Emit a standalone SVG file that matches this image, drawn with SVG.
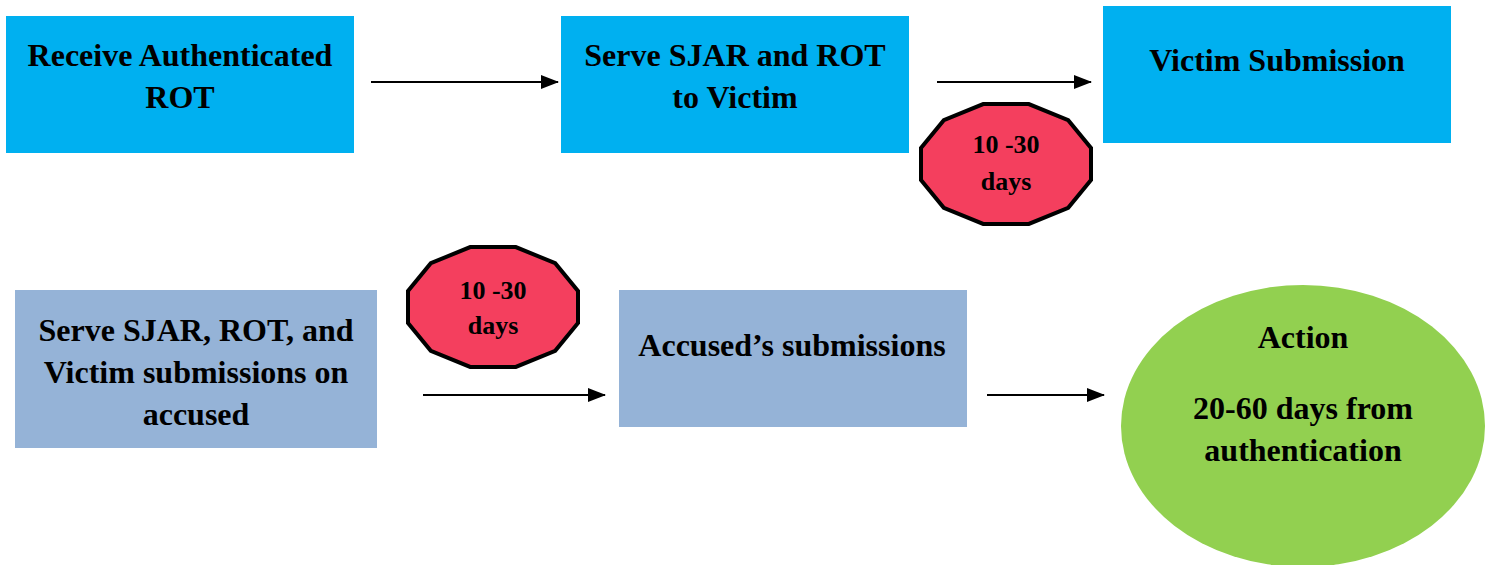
<svg xmlns="http://www.w3.org/2000/svg" width="1492" height="565" viewBox="0 0 1492 565">
<style>
.t{font-family:"Liberation Serif","Times New Roman",serif;font-weight:bold;fill:#000;text-anchor:middle}
.b{font-size:32px}
.s{font-size:26px}
.c1{fill:#00B0F0}
.c2{fill:#95B3D7}
.oct{fill:#F43F5E;stroke:#000;stroke-width:4;stroke-linejoin:miter}
.ln{stroke:#000;stroke-width:2;fill:none}
</style>
<defs>
<marker id="ah2" markerWidth="18" markerHeight="14" refX="17" refY="7" orient="auto" markerUnits="userSpaceOnUse" viewBox="0 0 18 14">
<path d="M0,0 L18,7 L0,14 Z" fill="#000"/>
</marker>
</defs>
<g id="connectors">
<line class="ln" x1="371" y1="82" x2="558" y2="82" marker-end="url(#ah2)"/>
<line class="ln" x1="937" y1="82" x2="1091" y2="82" marker-end="url(#ah2)"/>
<line class="ln" x1="423" y1="395" x2="605" y2="395" marker-end="url(#ah2)"/>
<line class="ln" x1="987" y1="395" x2="1104" y2="395" marker-end="url(#ah2)"/>
</g>
<g id="n1">
<rect class="c1" x="6" y="16" width="348" height="137"/>
<text class="t b" x="180" y="66">Receive Authenticated</text>
<text class="t b" x="180" y="108">ROT</text>
</g>
<g id="n2">
<rect class="c1" x="561" y="16" width="348" height="137"/>
<text class="t b" x="735" y="66">Serve SJAR and ROT</text>
<text class="t b" x="735" y="108">to Victim</text>
</g>
<g id="n3">
<rect class="c1" x="1103" y="6" width="348" height="137"/>
<text class="t b" x="1277" y="71">Victim Submission</text>
</g>
<g id="d1" transform="translate(1006,164)">
<polygon class="oct" points="85,16 62.2,43.8 22.8,59.9 -22.8,59.9 -62.2,43.8 -85,16 -85,-16 -62.2,-43.8 -22.8,-59.9 22.8,-59.9 62.2,-43.8 85,-16"/>
<text class="t s" x="0" y="-11">10 -30</text>
<text class="t s" x="0" y="26">days</text>
</g>
<g id="n4">
<rect class="c2" x="15" y="290" width="362" height="158"/>
<text class="t b" x="196" y="341">Serve SJAR, ROT, and</text>
<text class="t b" x="196" y="383">Victim submissions on</text>
<text class="t b" x="196" y="425">accused</text>
</g>
<g id="d2" transform="translate(493,307)">
<polygon class="oct" points="85,16 62.2,43.8 22.8,59.9 -22.8,59.9 -62.2,43.8 -85,16 -85,-16 -62.2,-43.8 -22.8,-59.9 22.8,-59.9 62.2,-43.8 85,-16"/>
<text class="t s" x="0" y="-8">10 -30</text>
<text class="t s" x="0" y="27">days</text>
</g>
<g id="n5">
<rect class="c2" x="619" y="290" width="348" height="137"/>
<text class="t b" x="792" y="356">Accused’s submissions</text>
</g>
<g id="n6">
<ellipse cx="1303" cy="426" rx="182" ry="141" fill="#92D050"/>
<text class="t b" x="1303" y="348">Action</text>
<text class="t b" x="1303" y="419">20-60 days from</text>
<text class="t b" x="1303" y="461">authentication</text>
</g>
</svg>
